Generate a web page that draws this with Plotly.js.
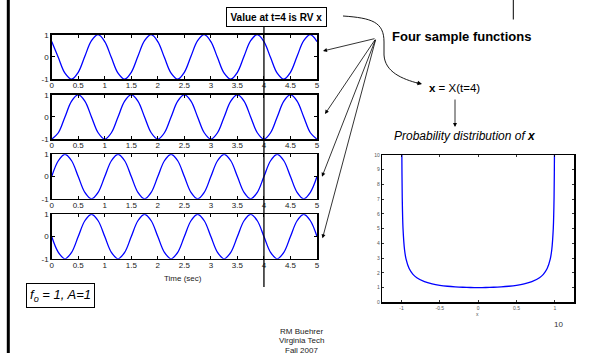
<!DOCTYPE html>
<html>
<head>
<meta charset="utf-8">
<script src="https://cdn.plot.ly/plotly-3.0.1.min.js"></script>
<style>html,body{margin:0;padding:0;background:#fff;}#chart{width:591px;height:353px;}</style>
</head>
<body>
<div id="chart"></div>
<script>
// ---- data ----
const timeSec = [0,0.125,0.25,0.375,0.5,0.625,0.75,0.875,1,1.125,1.25,1.375,1.5,1.625,1.75,1.875,2,2.125,2.25,2.375,2.5,2.625,2.75,2.875,3,3.125,3.25,3.375,3.5,3.625,3.75,3.875,4,4.125,4.25,4.375,4.5,4.625,4.75,4.875,5];
const sample1 = [0.69,-0.03,-0.73,-1,-0.69,0.03,0.73,1, 0.69,-0.03,-0.73,-1,-0.69,0.03,0.73,1, 0.69,-0.03,-0.73,-1,-0.69,0.03,0.73,1, 0.69,-0.03,-0.73,-1,-0.69,0.03,0.73,1, 0.69,-0.03,-0.73,-1,-0.69,0.03,0.73,1, 0.69];
const sample2 = [-1,-0.71,0,0.71,1,0.71,0,-0.71, -1,-0.71,0,0.71,1,0.71,0,-0.71, -1,-0.71,0,0.71,1,0.71,0,-0.71, -1,-0.71,0,0.71,1,0.71,0,-0.71, -1,-0.71,0,0.71,1,0.71,0,-0.71, -1];
const sample3 = [0,0.71,1,0.71,0,-0.71,-1,-0.71, 0,0.71,1,0.71,0,-0.71,-1,-0.71, 0,0.71,1,0.71,0,-0.71,-1,-0.71, 0,0.71,1,0.71,0,-0.71,-1,-0.71, 0,0.71,1,0.71,0,-0.71,-1,-0.71, 0];
const sample4 = [0,-0.71,-1,-0.71,0,0.71,1,0.71, 0,-0.71,-1,-0.71,0,0.71,1,0.71, 0,-0.71,-1,-0.71,0,0.71,1,0.71, 0,-0.71,-1,-0.71,0,0.71,1,0.71, 0,-0.71,-1,-0.71,0,0.71,1,0.71, 0];
const timeTicks = [0,0.5,1,1.5,2,2.5,3,3.5,4,4.5,5];
const timeTickText = ['0','0.5','1','1.5','2','2.5','3','3.5','4','4.5','5'];
const ampTicks = [-1,0,1];

const pdfX = [-0.9995,-0.995,-0.99,-0.98,-0.96,-0.94,-0.9,-0.85,-0.8,-0.7,-0.6,-0.5,-0.4,-0.3,-0.2,-0.1,0,0.1,0.2,0.3,0.4,0.5,0.6,0.7,0.8,0.85,0.9,0.94,0.96,0.98,0.99,0.995,0.9995];
const pdfY = [31.6,10.01,7.09,5.03,3.57,2.93,2.29,1.9,1.67,1.4,1.25,1.155,1.091,1.048,1.021,1.005,1,1.005,1.021,1.048,1.091,1.155,1.25,1.4,1.67,1.9,2.29,2.93,3.57,5.03,7.09,10.01,31.6];
const pdfXTicks = [-1,-0.5,0,0.5,1];
const pdfXTickText = ['-1','-0.5','0','0.5','1'];
const pdfYTicks = [0,1,2,3,4,5,6,7,8,9,10];
const footerLines = ['RM Buehrer', 'Virginia Tech', 'Fall 2007'];

// ---- helpers: pixel -> paper (margins are zero) ----
const W = 591, H = 353;
const X = p => p / W;
const Y = p => 1 - p / H;
const FONT = 'Arial, "Liberation Sans", sans-serif';

const samples = [sample1, sample2, sample3, sample4];
const panelTops = [34.7, 94.7, 154.3, 214.3];
const panelH = 44.5;

const traces = [];
const layout = {
  width: W, height: H,
  margin: {l: 0, r: 0, t: 0, b: 0},
  paper_bgcolor: '#fff', plot_bgcolor: '#fff',
  showlegend: false,
  font: {family: FONT, color: '#000'},
  shapes: [], annotations: []
};

samples.forEach((s, i) => {
  const n = i + 1;
  const xa = n === 1 ? 'x' : 'x' + n;
  const ya = n === 1 ? 'y' : 'y' + n;
  traces.push({
    x: timeSec, y: s, xaxis: xa, yaxis: ya, type: 'scatter', mode: 'lines',
    line: {color: '#0000ff', width: 1.3, shape: 'spline', smoothing: 1},
    hoverinfo: 'skip'
  });
  const top = panelTops[i];
  layout[n === 1 ? 'xaxis' : 'xaxis' + n] = {
    domain: [X(51.7), X(317)], range: [0, 5], anchor: ya,
    tickvals: timeTicks, ticktext: timeTickText,
    ticks: 'inside', ticklen: 3, tickwidth: 1, tickcolor: '#000',
    showline: true, linecolor: '#000', linewidth: 1.5, mirror: 'allticks',
    showgrid: false, zeroline: false, ticklabelstandoff: -2,
    tickfont: {family: FONT, size: 8, color: '#222'}
  };
  layout[n === 1 ? 'yaxis' : 'yaxis' + n] = {
    domain: [Y(top + panelH), Y(top)], range: [-1, 1], anchor: xa,
    tickvals: ampTicks, ticktext: ['-1', '0', '1'],
    ticks: 'inside', ticklen: 3, tickwidth: 1, tickcolor: '#000',
    showline: true, linecolor: '#000', linewidth: 1.5, mirror: 'allticks',
    showgrid: false, zeroline: false,
    tickfont: {family: FONT, size: 8, color: '#222'}
  };
});

// probability distribution plot
traces.push({
  x: pdfX, y: pdfY, xaxis: 'x5', yaxis: 'y5', type: 'scatter', mode: 'lines',
  line: {color: '#0000ff', width: 1.3, shape: 'spline', smoothing: 0.6},
  hoverinfo: 'skip'
});
layout.xaxis5 = {
  domain: [X(382.3), X(574)], range: [-1.25, 1.25], anchor: 'y5',
  tickvals: pdfXTicks, ticktext: pdfXTickText,
  ticks: 'inside', ticklen: 2, tickwidth: 0.8, tickcolor: '#000',
  showline: true, linecolor: '#000', linewidth: 1.5, mirror: 'allticks',
  showgrid: false, zeroline: false,
  tickfont: {family: FONT, size: 5, color: '#555'}
};
layout.yaxis5 = {
  domain: [Y(302.3), Y(155)], range: [0, 10], anchor: 'x5',
  tickvals: pdfYTicks,
  ticks: 'inside', ticklen: 2, tickwidth: 0.8, tickcolor: '#000',
  showline: true, linecolor: '#000', linewidth: 1.5, mirror: 'allticks',
  showgrid: false, zeroline: false,
  tickfont: {family: FONT, size: 5, color: '#555'}
};

// ---- slide decorations ----
const S = layout.shapes, A = layout.annotations;
S.push({type: 'line', xref: 'paper', yref: 'paper', x0: X(8.3), x1: X(8.3), y0: 0, y1: 1, line: {color: '#000', width: 3}});
S.push({type: 'line', xref: 'paper', yref: 'paper', x0: X(513.3), x1: X(513.3), y0: Y(0), y1: Y(19.5), line: {color: '#000', width: 1}});
S.push({type: 'line', xref: 'x', yref: 'paper', x0: 4, x1: 4, y0: Y(287), y1: Y(27), line: {color: '#000', width: 1.3}});

// curved arrow from box to x = X(t=4)
const pt = (a, b) => X(a).toFixed(5) + ',' + Y(b).toFixed(5);
S.push({type: 'path', xref: 'paper', yref: 'paper',
  path: 'M' + pt(343, 16) + ' C' + pt(372, 18) + ' ' + pt(384, 22) + ' ' + pt(384, 42) +
        ' L' + pt(384, 55) + ' C' + pt(385, 72) + ' ' + pt(402, 79) + ' ' + pt(419, 83.5),
  line: {color: '#000', width: 0.9}});
A.push({xref: 'paper', yref: 'paper', x: X(422), y: Y(84), ax: -7, ay: -1.5, text: '', showarrow: true,
  arrowhead: 2, arrowsize: 1, arrowwidth: 0.9, arrowcolor: '#000'});

// fan arrows to the four panels
const tail = [376, 38.3];
[[323, 51], [325, 114], [322, 176.7], [322.5, 238.3]].forEach(p => {
  A.push({xref: 'paper', yref: 'paper', x: X(p[0]), y: Y(p[1]), ax: tail[0] - p[0], ay: tail[1] - p[1],
    text: '', showarrow: true, arrowhead: 2, arrowsize: 1, arrowwidth: 0.8, arrowcolor: '#000'});
});

// down arrow
A.push({xref: 'paper', yref: 'paper', x: X(455), y: Y(127), ax: 0, ay: -29, text: '', showarrow: true,
  arrowhead: 2, arrowsize: 1, arrowwidth: 0.8, arrowcolor: '#000'});

function label(px, py, text, font, extra) {
  A.push(Object.assign({xref: 'paper', yref: 'paper', x: X(px), y: Y(py), xanchor: 'center', yanchor: 'middle',
    text: text, showarrow: false, font: Object.assign({family: FONT, color: '#000'}, font)}, extra || {}));
}
label(276.5, 17, '<b>Value at t=4 is RV x</b>', {size: 10},
  {bordercolor: '#000', borderwidth: 1, borderpad: 3.5, bgcolor: '#fff'});
label(390, 36.7, '<b>Four sample functions</b>', {size: 13}, {xanchor: 'left'});
label(427, 88, '<b>x</b> = X(t=4)', {size: 11.5}, {xanchor: 'left'});
label(392, 136, '<i>Probability distribution of <b>x</b></i>', {size: 12}, {xanchor: 'left'});
label(60.3, 295.5, '<i>f<sub>o</sub> = 1, A=1</i>', {size: 13},
  {bordercolor: '#000', borderwidth: 1, borderpad: 3, bgcolor: '#fff'});
label(183, 278, 'Time (sec)', {size: 8, color: '#222'});
label(478, 314, 'x', {size: 5, color: '#555'});
footerLines.forEach((t, i) => label(301.5, 331.5 + i * 9.3, t, {size: 8, color: '#222'}));
label(558, 324, '10', {size: 8, color: '#333'});

Plotly.newPlot('chart', traces, layout, {staticPlot: true, displayModeBar: false});
</script>
</body>
</html>
